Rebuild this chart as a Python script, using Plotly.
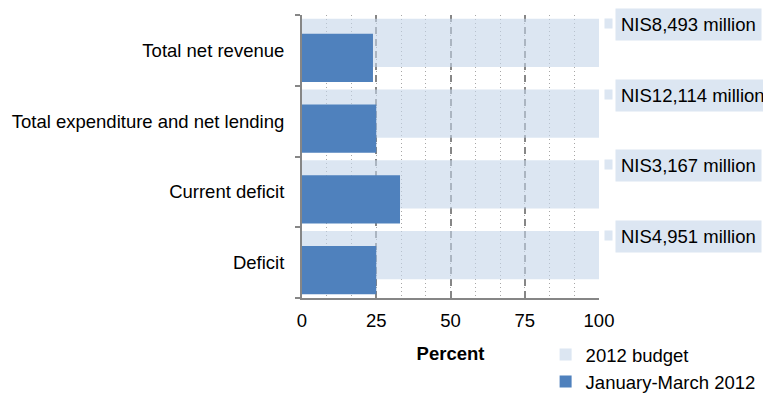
import plotly.graph_objects as go

categories = ["Total net revenue", "Total expenditure and net lending", "Current deficit", "Deficit"]
budget_pct = [100, 100, 100, 100]
actual_pct = [23.9, 25.0, 33.0, 25.0]
budget_labels = ["NIS8,493 million", "NIS12,114 million", "NIS3,167 million", "NIS4,951 million"]
x_ticks = [0, 25, 50, 75, 100]
series_names = ["2012 budget", "January-March 2012"]

FONT = "Liberation Sans, Arial, sans-serif"
FS = 18.5
LIGHT = "rgba(197,213,233,0.6)"
LIGHT_SOLID = "#DCE6F2"
DARK = "#4F81BD"

fig = go.Figure()
fig.add_trace(go.Bar(
    y=categories, x=budget_pct, orientation="h", name=series_names[0],
    marker=dict(color=LIGHT, line=dict(width=0)),
    width=0.68, offset=-0.234, hoverinfo="skip",
))
fig.add_trace(go.Bar(
    y=categories, x=actual_pct, orientation="h", name=series_names[1],
    marker=dict(color=DARK, line=dict(width=0)),
    width=0.68, offset=-0.446,
))

annotations = []
for cat, lab in zip(categories, budget_labels):
    annotations.append(dict(
        x=100, y=cat, xref="x", yref="y", text=lab, showarrow=False,
        xanchor="left", yanchor="middle", xshift=15.7, yshift=26,
        bgcolor=LIGHT_SOLID, borderpad=5,
        font=dict(family=FONT, size=FS, color="#000000"),
    ))
    annotations.append(dict(
        x=100, y=cat, xref="x", yref="y", text=" ", showarrow=False,
        xanchor="center", yanchor="middle", xshift=9, yshift=27,
        bgcolor=LIGHT_SOLID, borderpad=0, width=7, height=9,
        font=dict(family=FONT, size=2, color=LIGHT_SOLID),
    ))

# page body has an 8px margin; size the figure so it fits the 771x393 window
fig.update_layout(
    width=763, height=385,
    margin=dict(l=293.5, r=171.7, t=7, b=95, autoexpand=False),
    paper_bgcolor="white", plot_bgcolor="white",
    barmode="overlay",
    font=dict(family=FONT, size=FS, color="#000000"),
    showlegend=True,
    legend=dict(
        xref="container", yref="container",
        x=0.7046, y=0.148, xanchor="left", yanchor="top",
        traceorder="normal", font=dict(family=FONT, size=FS, color="#000000"),
        bgcolor="rgba(0,0,0,0)", itemwidth=30, tracegroupgap=0,
    ),
    annotations=annotations,
    xaxis=dict(
        range=[0, 100], tickvals=x_ticks, ticktext=[str(v) for v in x_ticks],
        showline=True, linecolor="#868686", linewidth=2,
        ticks="", showgrid=True, gridcolor="#868686", gridwidth=1.5,
        griddash="7px,5px", zeroline=False,
        minor=dict(dtick=25 / 3, tick0=0, showgrid=True, gridcolor="#A6A6A6",
                   gridwidth=1, griddash="1px,3px", ticks=""),
        title=dict(text="<b>Percent</b>", standoff=17,
                   font=dict(family=FONT, size=FS, color="#000000")),
        tickfont=dict(family=FONT, size=FS, color="#000000"),
        ticklabelstandoff=5,
        layer="below traces",
        fixedrange=True,
    ),
    yaxis=dict(
        type="category", categoryorder="array", categoryarray=categories[::-1],
        range=[-0.5, 3.5], showline=True, linecolor="#868686", linewidth=2,
        ticks="outside", tickson="boundaries", ticklen=5, tickcolor="#868686",
        tickwidth=2, showgrid=False, zeroline=False,
        tickfont=dict(family=FONT, size=FS, color="#000000"),
        ticklabelstandoff=12,
        fixedrange=True,
    ),
)

fig.write_html("out.html")
